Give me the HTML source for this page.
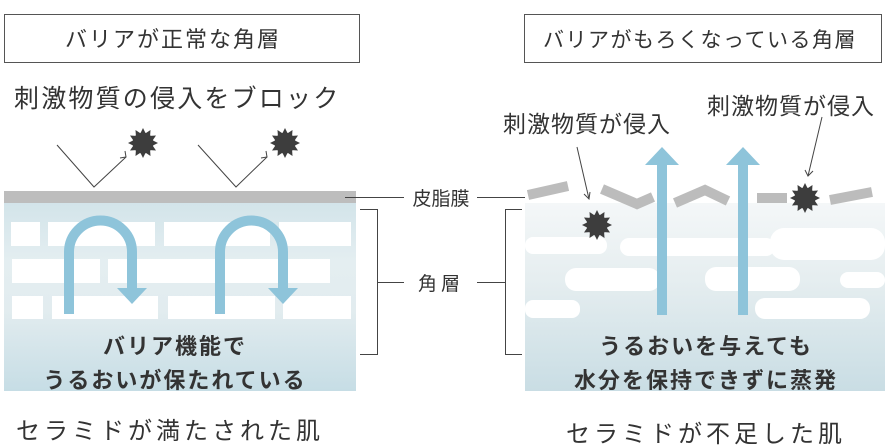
<!DOCTYPE html>
<html><head><meta charset="utf-8"><style>
html,body{margin:0;padding:0;background:#fff;}
svg{display:block;}
text{font-family:"Liberation Sans","Noto Sans CJK JP",sans-serif;}
</style></head><body>
<svg width="889" height="446" viewBox="0 0 889 446" xmlns="http://www.w3.org/2000/svg">
<defs>
<linearGradient id="g" x1="0" y1="0" x2="0" y2="1">
<stop offset="0" stop-color="#cfe2e8"/><stop offset="0.35" stop-color="#e4eef1"/><stop offset="0.6" stop-color="#e2ecef"/><stop offset="1" stop-color="#c6dde5"/>
</linearGradient>
<linearGradient id="g2" x1="0" y1="0" x2="0" y2="1">
<stop offset="0" stop-color="#f4f7f8"/><stop offset="0.4" stop-color="#e6eef0"/><stop offset="1" stop-color="#c9dde4"/>
</linearGradient>
<g id="star"><polygon fill="#3d3d3d" points="0,-15 2.6,-9.7 7.5,-13 7.1,-7.1 13,-7.5 9.7,-2.6 15,0 9.7,2.6 13,7.5 7.1,7.1 7.5,13 2.6,9.7 0,15 -2.6,9.7 -7.5,13 -7.1,7.1 -13,7.5 -9.7,2.6 -15,0 -9.7,-2.6 -13,-7.5 -7.1,-7.1 -7.5,-13 -2.6,-9.7"/><circle r="10.5" fill="#3d3d3d"/></g>
</defs>
<rect x="4.5" y="14.5" width="355" height="48" fill="#fff" stroke="#555" stroke-width="1"/>
<text x="173" y="47" font-size="22" fill="#333" text-anchor="middle" letter-spacing="2">バリアが正常な角層</text>
<rect x="524.5" y="14.5" width="357" height="48" fill="#fff" stroke="#555" stroke-width="1"/>
<text x="700" y="47" font-size="21" fill="#333" text-anchor="middle" letter-spacing="1.5">バリアがもろくなっている角層</text>
<text x="14" y="107" font-size="25" fill="#333" letter-spacing="2.2">刺激物質の侵入をブロック</text>
<rect x="4" y="191" width="352" height="200" fill="url(#g)"/>
<rect x="4" y="191" width="352" height="12" fill="#bdbdbd"/>
<g fill="#fff">
<rect x="11" y="222" width="29" height="24"/><rect x="48" y="222" width="107" height="24"/><rect x="164" y="222" width="106" height="24"/><rect x="279" y="222" width="72" height="24"/>
<rect x="12" y="259" width="88" height="24"/><rect x="108" y="259" width="222" height="24"/>
<rect x="12" y="296" width="31" height="23"/><rect x="52" y="296" width="106" height="23"/><rect x="168" y="296" width="107" height="23"/><rect x="283" y="296" width="68" height="23"/>
</g>
<g fill="none" stroke="#8ec4da" stroke-width="10">
<path d="M69 314 V252 A31.5 31.5 0 0 1 132 252 V290"/>
<path d="M220 314 V252 A31.5 31.5 0 0 1 283 252 V290"/>
</g>
<g fill="#8ec4da"><polygon points="117,288 147,288 132,304"/><polygon points="268,288 298,288 283,304"/></g>
<g font-size="22" font-weight="bold" fill="#333" text-anchor="middle" letter-spacing="2">
<text x="175" y="354">バリア機能で</text><text x="175" y="388">うるおいが保たれている</text></g>
<g fill="none" stroke="#444" stroke-width="1">
<polyline points="57,145 94,187 126,157"/><polyline points="120,158 126,157 125,151"/>
<polyline points="198,145 236,187 267,157"/><polyline points="261,158 267,157 266,151"/>
</g>
<use href="#star" x="143" y="143"/><use href="#star" x="285" y="143"/>
<g stroke="#444" stroke-width="1" fill="none">
<line x1="345" y1="197.5" x2="404" y2="197.5"/><line x1="477" y1="197.5" x2="525" y2="197.5"/>
<polyline points="360,209.5 377.5,209.5 377.5,354.5 360,354.5"/>
<polyline points="522,209.5 505.5,209.5 505.5,354.5 522,354.5"/>
<line x1="378" y1="282.5" x2="404" y2="282.5"/><line x1="477" y1="282.5" x2="505" y2="282.5"/>
</g>
<text x="441" y="205" font-size="19" fill="#333" text-anchor="middle">皮脂膜</text>
<text x="441" y="290" font-size="19" fill="#333" text-anchor="middle" letter-spacing="4">角層</text>
<rect x="525" y="203" width="360" height="188" fill="url(#g2)"/>
<g fill="#fff">
<rect x="525" y="237" width="82" height="17" rx="8"/>
<rect x="620" y="238" width="155" height="18" rx="9"/>
<rect x="770" y="228" width="115" height="32" rx="14"/>
<rect x="565" y="268" width="95" height="23" rx="11"/>
<rect x="705" y="267" width="95" height="24" rx="11"/>
<rect x="840" y="272" width="45" height="16" rx="8"/>
<rect x="525" y="300" width="55" height="18" rx="8"/>
<rect x="755" y="298" width="115" height="21" rx="10"/>
</g>
<g fill="none" stroke="#bcbcbc" stroke-width="10" stroke-linejoin="miter">
<polyline points="528,195 568,186"/>
<polyline points="602,189 637,204 653,197"/>
<polyline points="675,203 705,190 728,201"/>
<polyline points="757,198 787,198"/>
<polyline points="830,200 872,192"/>
</g>
<use href="#star" x="805" y="198"/><use href="#star" x="597" y="225"/>
<g fill="#8ec4da">
<rect x="657" y="163" width="10" height="152"/><polygon points="645,165 679,165 662,147"/>
<rect x="738" y="163" width="10" height="152"/><polygon points="726,165 760,165 743,147"/>
</g>
<g font-size="22" font-weight="bold" fill="#333" text-anchor="middle" letter-spacing="2">
<text x="706" y="354">うるおいを与えても</text><text x="706" y="388">水分を保持できずに蒸発</text></g>
<text x="503" y="132" font-size="23" fill="#333" letter-spacing="1">刺激物質が侵入</text>
<text x="707" y="114" font-size="23" fill="#333" letter-spacing="1">刺激物質が侵入</text>
<g fill="none" stroke="#444" stroke-width="1">
<line x1="577" y1="147" x2="589" y2="199"/><polyline points="584,194 589,199 590,192"/>
<line x1="822" y1="117" x2="808" y2="176"/><polyline points="805,170 808,176 813,171"/>
</g>
<text x="170" y="439" font-size="24" fill="#333" text-anchor="middle" letter-spacing="4">セラミドが満たされた肌</text>
<text x="706" y="442" font-size="24" fill="#333" text-anchor="middle" letter-spacing="4">セラミドが不足した肌</text>
</svg>
</body></html>
